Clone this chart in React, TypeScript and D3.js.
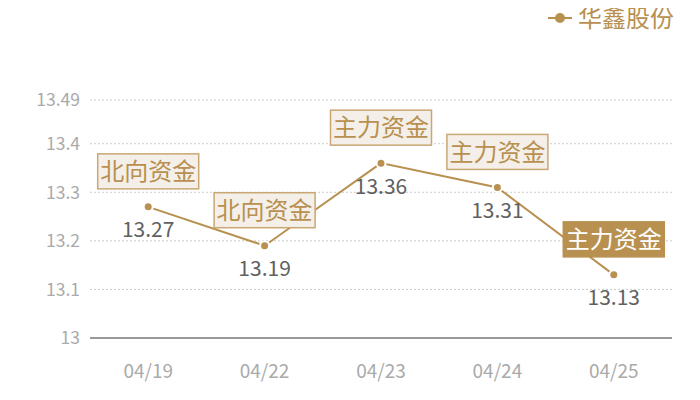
import React from 'react';
import * as d3 from 'd3';

const dates = ['04/19', '04/22', '04/23', '04/24', '04/25'];
const prices = [13.27, 13.19, 13.36, 13.31, 13.13];
const tags = ['北向资金', '北向资金', '主力资金', '主力资金', '主力资金'];
const highlighted = [false, false, false, false, true];
const yTicks = [13, 13.1, 13.2, 13.3, 13.4, 13.49];
const seriesName = '华鑫股份';

const GOLD = '#b8904f';
const FONT = '"Noto Sans CJK SC", "Noto Sans", sans-serif';

export default function App() {
  const width = 700;
  const height = 400;
  const margin = { top: 100, right: 28, bottom: 62, left: 90 };

  const x = d3.scaleBand<string>()
    .domain(dates)
    .range([margin.left, width - margin.right]);

  const y = d3.scaleLinear()
    .domain([13, 13.49])
    .range([height - margin.bottom, margin.top]);

  const cx = (d: string) => (x(d) ?? 0) + x.bandwidth() / 2;

  const line = d3.line<number>()
    .x((_, i) => cx(dates[i]))
    .y(d => y(d));

  const boxW = 101;
  const boxH = 35;

  return (
    <div style={{ margin: -8 }}>
      <svg width={width} height={height} style={{ display: 'block', fontFamily: FONT }}>
        {/* Legend */}
        <g>
          <line x1={548} x2={572} y1={18} y2={18} stroke={GOLD} strokeWidth={2} />
          <circle cx={560} cy={18} r={5} fill={GOLD} />
          <text x={578} y={18} dy="0.36em" fontSize={24} fill={GOLD}>{seriesName}</text>
        </g>

        {/* Grid + y ticks */}
        {yTicks.map(t => (
          <g key={t}>
            {t !== 13 && (
              <line x1={margin.left} x2={width - margin.right} y1={y(t)} y2={y(t)}
                stroke="#cccccc" strokeDasharray="2,2" strokeWidth={1} />
            )}
            <text x={80} y={y(t)} dy="0.36em" textAnchor="end" fontSize={17.5} fill="#aaaaaa">
              {String(t)}
            </text>
          </g>
        ))}

        {/* x axis */}
        <line x1={margin.left} x2={width - margin.right} y1={y(13)} y2={y(13)} stroke="#333333" strokeWidth={1} />
        {dates.map(d => (
          <text key={d} x={cx(d)} y={y(13) + 33} dy="0.36em" textAnchor="middle" fontSize={19} fill="#aaaaaa">
            {d}
          </text>
        ))}

        {/* Line */}
        <path d={line(prices) ?? ''} fill="none" stroke={GOLD} strokeWidth={2} />
        {prices.map((p, i) => (
          <circle key={i} cx={cx(dates[i])} cy={y(p)} r={4.5} fill={GOLD} stroke="#ffffff" strokeWidth={2} />
        ))}

        {/* Value labels */}
        {prices.map((p, i) => (
          <text key={i} x={cx(dates[i])} y={y(p) + 23} dy="0.36em" textAnchor="middle" fontSize={21} fill="#616161">
            {p.toFixed(2)}
          </text>
        ))}

        {/* Tag boxes */}
        {prices.map((p, i) => {
          const bx = cx(dates[i]) - boxW / 2;
          const by = y(p) - 18 - boxH;
          const hi = highlighted[i];
          return (
            <g key={i}>
              <rect x={bx} y={by} width={boxW} height={boxH}
                fill={hi ? GOLD : '#f4efe8'} stroke={hi ? GOLD : '#c9a774'} strokeWidth={1.5} />
              <text x={bx + boxW / 2} y={by + boxH / 2} dy="0.36em" textAnchor="middle"
                fontSize={24} fill={hi ? '#ffffff' : GOLD}>
                {tags[i]}
              </text>
            </g>
          );
        })}
      </svg>
    </div>
  );
}
